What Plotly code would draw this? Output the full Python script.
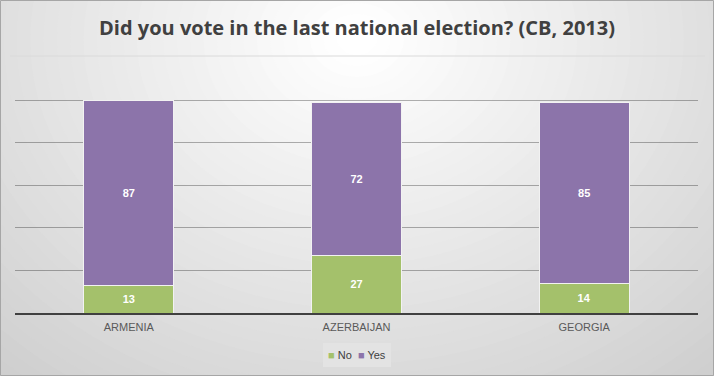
import plotly.graph_objects as go

categories = ["ARMENIA", "AZERBAIJAN", "GEORGIA"]
no_values = [13, 27, 14]
yes_values = [87, 72, 85]

GREEN = "#A4C16B"
PURPLE = "#8C74AA"

fig = go.Figure()
fig.add_trace(go.Bar(x=categories, y=no_values, name="No", marker=dict(color=GREEN, line=dict(color="#F2F2F2", width=1)),
                     text=[f"<b>{v}</b>" for v in no_values], textposition="inside", insidetextanchor="middle",
                     textfont=dict(color="white", size=11, family="Liberation Sans")))
fig.add_trace(go.Bar(x=categories, y=yes_values, name="Yes", marker=dict(color=PURPLE, line=dict(color="#F2F2F2", width=1)),
                     text=[f"<b>{v}</b>" for v in yes_values], textposition="inside", insidetextanchor="middle",
                     textfont=dict(color="white", size=11, family="Liberation Sans")))

# plot area in pixels
L, R, T, B = 15, 698, 98, 313
W, H = R - L, B - T
YMAX = 100 * H / 213.0
def px(x):
    return (x - L) / W
def py(y):
    return (B - y) / H

shapes = []
# smooth radial-like gradient background
cx, cy = 357, 40
n = 40
c_out, c_in = 0xCF, 0xFF
for i in range(n):
    f = i / (n - 1)
    rx = 520 * (1 - f) + 20
    ry = 430 * (1 - f) + 15
    v = int(round(c_out + (c_in - c_out) * f))
    col = "#%02X%02X%02X" % (v, v, v)
    shapes.append(dict(type="circle", xref="paper", yref="paper",
                       x0=px(cx - rx), x1=px(cx + rx), y0=py(cy + ry), y1=py(cy - ry),
                       fillcolor=col, line=dict(width=0), layer="below"))
# line under title
shapes.append(dict(type="line", xref="paper", yref="paper", x0=px(10), x1=px(705), y0=py(56), y1=py(56),
                   line=dict(color="#DADADA", width=1), layer="below"))
# legend box
shapes.append(dict(type="rect", xref="paper", yref="paper", x0=px(323), x1=px(391), y0=py(367), y1=py(343),
                   fillcolor="#E3E3E3", line=dict(width=0), layer="below"))
# chart border
shapes.append(dict(type="rect", xref="paper", yref="paper", x0=px(0.5), x1=px(713.5), y0=py(375.5), y1=py(0.5),
                   line=dict(color="#A6A6A6", width=1), layer="above"))

legend_text = (f"<span style='color:{GREEN}'>■</span> No  "
               f"<span style='color:{PURPLE}'>■</span> Yes")

fig.update_layout(
    width=714, height=376,
    barmode="stack", bargap=0.605,
    paper_bgcolor="#CFCFCF", plot_bgcolor="rgba(0,0,0,0)",
    margin=dict(l=L, r=714 - R, t=T, b=376 - B, autoexpand=False),
    title=dict(text="<b>Did you vote in the last national election? (CB, 2013)</b>", x=0.5, xanchor="center",
               y=1 - 28 / 376, yref="container", yanchor="middle",
               font=dict(size=20, color="#404040", family="Open Sans")),
    xaxis=dict(showline=True, linecolor="#404040", linewidth=2, ticklabelstandoff=3,
               tickfont=dict(size=11, color="#595959", family="Liberation Sans"), ticks=""),
    yaxis=dict(range=[0, YMAX], tickvals=[20, 40, 60, 80, 100], showticklabels=False,
               gridcolor="rgba(0,0,0,0.3)", gridwidth=1, zeroline=False),
    showlegend=False,
    annotations=[dict(text=legend_text, xref="paper", yref="paper", x=px(357), y=py(355),
                      xanchor="center", yanchor="middle", showarrow=False,
                      font=dict(size=11, color="#404040", family="Liberation Sans"))],
    shapes=shapes,
)
fig.write_html("out.html", config={"displayModeBar": False},
               post_script="document.body.style.margin='0';document.body.style.overflow='hidden';")
